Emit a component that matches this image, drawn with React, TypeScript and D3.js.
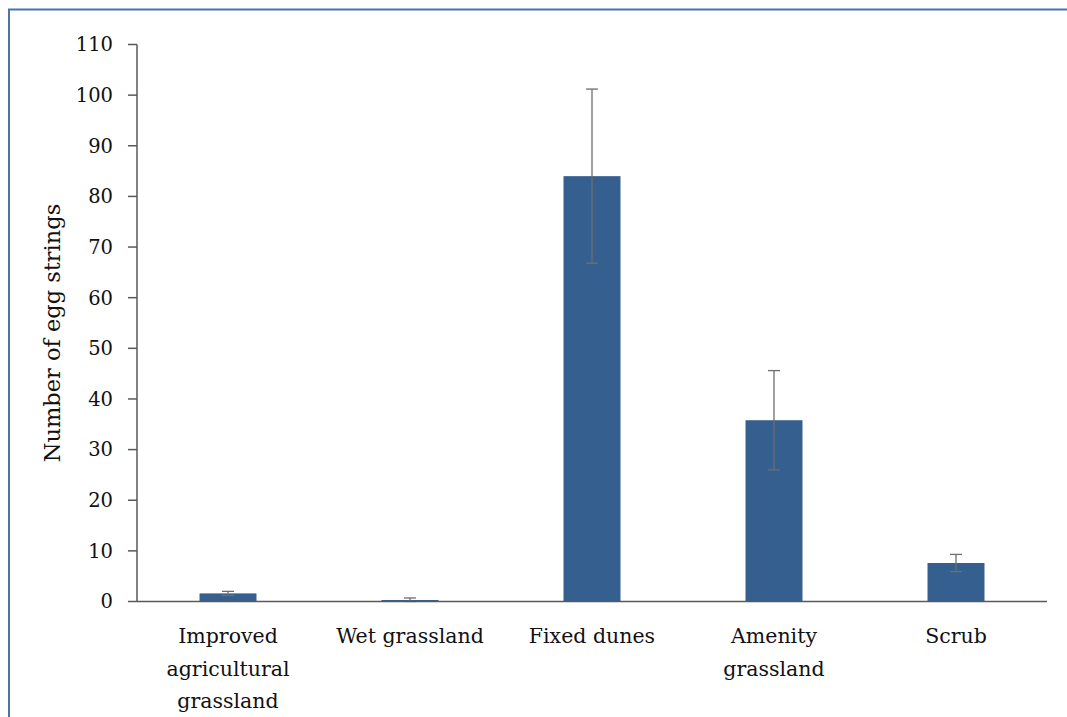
import React from "react";
import * as d3 from "d3";

const categories = [
  ["Improved", "agricultural", "grassland"],
  ["Wet grassland"],
  ["Fixed dunes"],
  ["Amenity", "grassland"],
  ["Scrub"],
];
const values = [1.6, 0.3, 84.0, 35.8, 7.6];
const errors = [0.4, 0.4, 17.2, 9.8, 1.7];
const yTicks = [0, 10, 20, 30, 40, 50, 60, 70, 80, 90, 100, 110];
const yLabel = "Number of egg strings";

export default function App() {
  const W = 1067, H = 717;
  const left = 137, right = 1047, top = 44.5, bottom = 601.5;
  const keys = categories.map((_, i) => String(i));
  const x = d3.scaleBand().domain(keys).range([left, right]).paddingInner(0.687).paddingOuter(0.3435);
  const y = d3.scaleLinear().domain([0, 110]).range([bottom, top]);
  const font = "'Palatino Linotype', 'Book Antiqua', 'DejaVu Serif', serif";
  const axisColor = "#595959";
  const barColor = "#355F8F";
  const errColor = "#6E6E6E";
  const step = (right - left) / categories.length;

  return (
    <svg width={W} height={H} style={{ position: "absolute", left: 0, top: 0, background: "#fff" }}>
      <path d={`M9,${H} L9,9.5 L${W},9.5`} fill="none" stroke="#4A74A8" strokeWidth={2} />
      {values.map((v, i) => (
        <rect key={"b" + i} x={x(String(i))} y={y(v)} width={x.bandwidth()} height={y(0) - y(v)} fill={barColor} />
      ))}
      {values.map((v, i) => {
        const cx = (x(String(i)) as number) + x.bandwidth() / 2;
        const hi = y(v + errors[i]);
        const lo = y(Math.max(0, v - errors[i]));
        return (
          <g key={"e" + i} stroke={errColor} strokeWidth={1.3}>
            <line x1={cx} x2={cx} y1={hi} y2={lo} />
            <line x1={cx - 6} x2={cx + 6} y1={hi} y2={hi} />
            <line x1={cx - 6} x2={cx + 6} y1={lo} y2={lo} />
          </g>
        );
      })}
      <line x1={left} x2={left} y1={top} y2={bottom} stroke={axisColor} strokeWidth={1.5} />
      {yTicks.map((t) => (
        <g key={"t" + t}>
          <line x1={left - 9} x2={left} y1={y(t)} y2={y(t)} stroke={axisColor} strokeWidth={1.5} />
          <text x={113} y={y(t)} dy="0.35em" textAnchor="end" fontFamily={font} fontSize={19.5} fill="#111">
            {t}
          </text>
        </g>
      ))}
      <line x1={left} x2={right} y1={bottom} y2={bottom} stroke={axisColor} strokeWidth={1.5} />
      {categories.map((lines, i) => {
        const cx = left + step * (i + 0.5);
        return (
          <text key={"c" + i} textAnchor="middle" fontFamily={font} fontSize={20.5} fill="#111">
            {lines.map((l, j) => (
              <tspan key={j} x={cx} y={643 + j * 32.5}>
                {l}
              </tspan>
            ))}
          </text>
        );
      })}
      <text
        transform={`translate(60,${333}) rotate(-90)`}
        textAnchor="middle"
        fontFamily={font}
        fontSize={22.5}
        fill="#111"
      >
        {yLabel}
      </text>
    </svg>
  );
}
